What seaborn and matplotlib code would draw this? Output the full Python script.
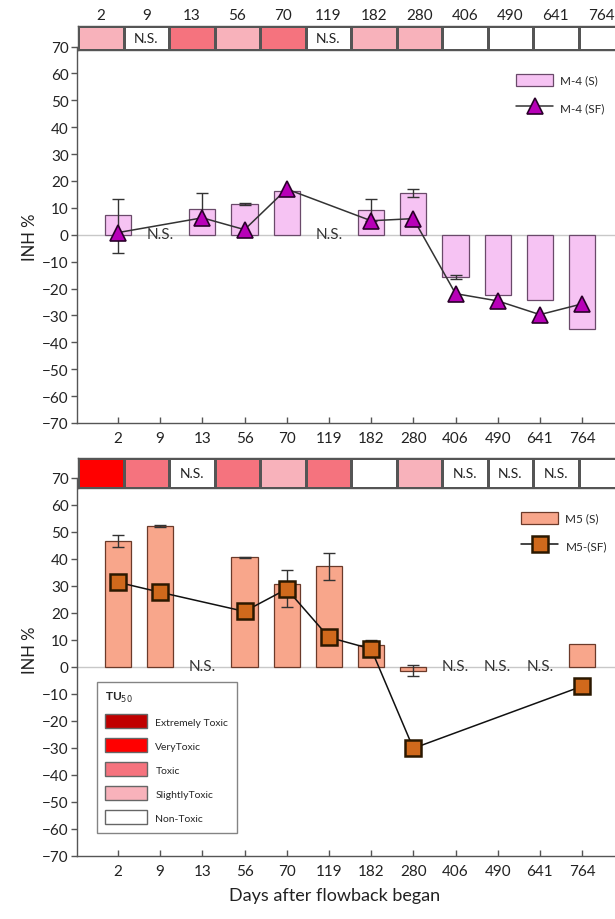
import numpy as np
import pandas as pd
import matplotlib
matplotlib.use("Agg")
import matplotlib.pyplot as plt
from matplotlib.colors import ListedColormap
from matplotlib.patches import Patch
from matplotlib.lines import Line2D
import seaborn as sns

nan = np.nan
days = ['2', '9', '13', '56', '70', '119', '182', '280', '406', '490', '641', '764']

# Panel 1: M-4
m4_s = [7.5, nan, 9.7, 11.4, 16.2, nan, 9.3, 15.6, -15.7, -22.3, -24.2, -35.0]
m4_s_err_lo = [14.2, 0, 5.7, 0.3, 0, 0, 4.1, 1.5, 0.9, 0, 0, 0]
m4_s_err_hi = [5.9, 0, 5.7, 0.3, 0, 0, 4.1, 1.5, 0.9, 0, 0, 0]
m4_sf = [0.8, nan, 6.3, 1.9, 17.0, nan, 5.2, 6.0, -21.9, -24.6, -29.7, -25.7]
m4_tox = [1, 0, 2, 1, 2, 0, 1, 1, 0, 0, 0, 0]
m4_strip_text = ['', 'N.S.', '', '', '', 'N.S.', '', '', '', '', '', '']

# Panel 2: M5
m5_s = [46.6, 52.1, nan, 40.4, 30.6, 37.1, 8.0, -1.5, nan, nan, nan, 8.3]
m5_s_err_lo = [2.2, 0.3, 0, 0.2, 8.4, 5.0, 2.0, 1.9, 0, 0, 0, 0]
m5_s_err_hi = [2.2, 0.3, 0, 0.2, 5.1, 5.0, 2.0, 1.9, 0, 0, 0, 0]
m5_sf = [31.2, 27.5, nan, 20.4, 28.7, 10.8, 6.5, -30.3, nan, nan, nan, -7.3]
m5_tox = [3, 2, 0, 2, 1, 2, 0, 1, 0, 0, 0, 0]
m5_strip_text = ['', '', 'N.S.', '', '', '', '', '', 'N.S.', 'N.S.', 'N.S.', '']

tox_labels = ['Extremely Toxic', 'VeryToxic', 'Toxic', 'SlightlyToxic', 'Non-Toxic']
tox_colors = ['#ffffff', '#f8b2bb', '#f5737e', '#ff0000', '#c00000']  # index = code 0..4

sns.set_theme(style='white')
plt.rcParams['font.family'] = ['Lato', 'DejaVu Sans']

W, H = 615, 920
fig = plt.figure(figsize=(W / 100, H / 100), dpi=100)


def fx(px):
    return px / W


def fy(py):
    return 1 - py / H


def make_panel(top_px, bot_px, strip_top, strip_bot, s, lo, hi, sf, tox, strip_text,
               bar_fc, bar_ec, mk, mk_fc, mk_ec, mk_size, mk_ew, line_c, top_labels):
    left_px, right_px = 77, 630
    ax = fig.add_axes([fx(left_px), fy(bot_px), (right_px - left_px) / W, (bot_px - top_px) / H])
    n = len(days)
    df = pd.DataFrame({'day': days, 'S': s})
    sns.barplot(data=df, x='day', y='S', order=days, color=bar_fc, errorbar=None,
                width=0.62, edgecolor=bar_ec, linewidth=0.9, saturation=1, ax=ax, zorder=2)
    pos = np.arange(n)
    s_arr = np.array(s, dtype=float)
    lo_a = np.array(lo, dtype=float)
    hi_a = np.array(hi, dtype=float)
    m = (~np.isnan(s_arr)) & ((lo_a > 0) | (hi_a > 0))
    ax.errorbar(pos[m], s_arr[m], yerr=[lo_a[m], hi_a[m]], fmt='none', ecolor='#333333',
                elinewidth=1.0, capsize=4, capthick=1.0, zorder=3)
    sf_arr = np.array(sf, dtype=float)
    dsf = pd.DataFrame({'x': pos, 'y': sf_arr}).dropna()
    sns.lineplot(data=dsf, x='x', y='y', color=line_c, linewidth=1.1, marker=mk,
                 markersize=mk_size, markerfacecolor=mk_fc, markeredgecolor=mk_ec,
                 markeredgewidth=mk_ew, ax=ax, zorder=4, legend=False)
    for i in range(n):
        if np.isnan(s_arr[i]):
            ax.text(i, 0.3, 'N.S.', ha='center', va='center', fontsize=11, color='#333333', zorder=5)
    ax.axhline(0, color='#c8c8c8', linewidth=1.0, zorder=1)
    ax.set_ylim(-70, 70)
    ax.set_xlim(-0.97, -0.97 + (right_px - left_px) / 42.2)
    ax.set_yticks(np.arange(-70, 71, 10))
    ax.set_xticks(pos)
    ax.set_xticklabels(days)
    ax.set_xlabel('')
    ax.set_ylabel('')
    for sp in ['top', 'right']:
        ax.spines[sp].set_visible(False)
    for sp in ['left', 'bottom']:
        ax.spines[sp].set_color('#555555')
        ax.spines[sp].set_linewidth(1.0)
    ax.tick_params(axis='y', direction='out', length=4, width=1, color='#555555',
                   labelsize=11, labelcolor='#222222', left=True, pad=2)
    ax.tick_params(axis='x', direction='in', length=4, width=1, color='#555555',
                   labelsize=11, labelcolor='#222222', bottom=True, pad=6)

    # toxicity strip
    cell = 45.5
    sax = fig.add_axes([fx(78), fy(strip_bot), 12 * cell / W, (strip_bot - strip_top) / H])
    cmap = ListedColormap(tox_colors)
    sns.heatmap(np.array([tox]), cmap=cmap, vmin=-0.5, vmax=4.5, cbar=False,
                annot=np.array([strip_text]), fmt='', annot_kws={'fontsize': 10, 'color': '#222222'},
                linewidths=1.0, linecolor='#555555', ax=sax)
    sax.set_yticks([])
    for sp in sax.spines.values():
        sp.set_visible(True)
        sp.set_color('#555555')
        sp.set_linewidth(1.0)
    if top_labels:
        sax.xaxis.tick_top()
        sax.set_xticks(np.arange(n) + 0.5)
        sax.set_xticklabels(days, fontsize=11, color='#222222')
        sax.tick_params(axis='x', length=0, pad=3, top=True, bottom=False)
    else:
        sax.set_xticks([])
    return ax


ax1 = make_panel(47.5, 424, 27, 51, m4_s, m4_s_err_lo, m4_s_err_hi, m4_sf, m4_tox, m4_strip_text,
                 '#f6c3f3', '#6a4a6a', '^', '#b800b8', '#2a002a', 12, 1.2, '#333333', True)
ax2 = make_panel(478.5, 856.5, 459, 489, m5_s, m5_s_err_lo, m5_s_err_hi, m5_sf, m5_tox, m5_strip_text,
                 '#f8a68b', '#6b3a2a', 's', '#d0691c', '#2b1800', 12, 1.8, '#111111', False)

fig.text(fx(30), fy(237), 'INH %', rotation=90, ha='center', va='center', fontsize=12, color='#222222')
fig.text(fx(30), fy(650), 'INH %', rotation=90, ha='center', va='center', fontsize=12, color='#222222')
fig.text(fx(335), fy(896), 'Days after flowback began', ha='center', va='center', fontsize=13, color='#222222')

# series legends
h1 = [Patch(facecolor='#f6c3f3', edgecolor='#6a4a6a', linewidth=0.9, label='M-4 (S)'),
      Line2D([0], [0], color='#333333', lw=1.1, marker='^', markersize=12, markerfacecolor='#b800b8',
             markeredgecolor='#2a002a', markeredgewidth=1.2, label='M-4 (SF)')]
fig.legend(handles=h1, loc='upper left', bbox_to_anchor=(fx(505), fy(64)), frameon=False,
           fontsize=8.5, handlelength=3.2, handleheight=1.2, labelspacing=1.3, handletextpad=0.6)
h2 = [Patch(facecolor='#f8a68b', edgecolor='#6b3a2a', linewidth=0.9, label='M5 (S)'),
      Line2D([0], [0], color='#111111', lw=1.1, marker='s', markersize=12, markerfacecolor='#d0691c',
             markeredgecolor='#2b1800', markeredgewidth=1.8, label='M5-(SF)')]
fig.legend(handles=h2, loc='upper left', bbox_to_anchor=(fx(510), fy(502)), frameon=False,
           fontsize=8.5, handlelength=3.2, handleheight=1.2, labelspacing=1.3, handletextpad=0.6)

# TU50 legend
order = [4, 3, 2, 1, 0]
h3 = [Patch(facecolor=tox_colors[c], edgecolor='#666666', linewidth=1.0, label=l)
      for c, l in zip(order, tox_labels)]
leg = fig.legend(handles=h3, loc='upper left', bbox_to_anchor=(fx(97), fy(683)), frameon=True,
                 fontsize=7.5, title='TU$_{50}$', title_fontsize=8.5, alignment='left',
                 handlelength=4.0, handleheight=1.7, labelspacing=0.95, handletextpad=0.8,
                 fancybox=False, edgecolor='#666666', borderpad=0.8, borderaxespad=0)
leg.get_frame().set_linewidth(1.0)
leg.get_title().set_fontweight('bold')

fig.savefig('out.png', dpi=100)
